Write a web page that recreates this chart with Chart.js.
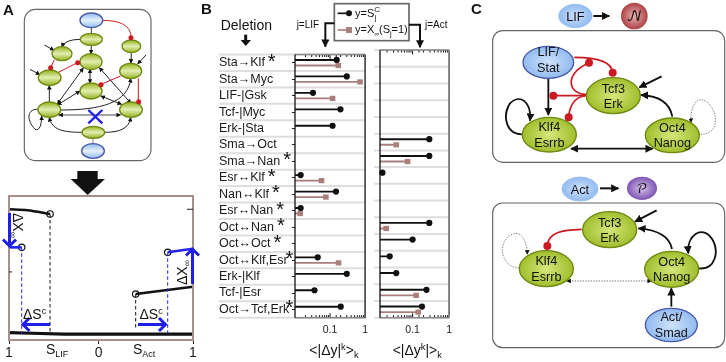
<!DOCTYPE html>
<html><head><meta charset="utf-8">
<style>
html,body{margin:0;padding:0;background:#fff;overflow:hidden;width:726px;height:362px}
canvas{position:absolute}
svg{position:absolute;left:0;top:0;pointer-events:none}
svg text{font-family:'Liberation Sans',Arial,sans-serif;fill:#111}
</style>
<script src="https://cdn.jsdelivr.net/npm/chart.js@4/dist/chart.umd.min.js"></script>
</head><body>
<canvas id="bif" style="left:0;top:190px" width="205" height="172"></canvas>
<canvas id="left" style="left:219px;top:45px" width="155" height="300"></canvas>
<canvas id="right" style="left:374px;top:45px" width="84" height="300"></canvas>
<svg id="ov" width="726" height="362" viewBox="0 0 726 362"></svg>
<script>
const deletions=['Sta→Klf','Sta→Myc','LIF-|Gsk','Tcf-|Myc','Erk-|Sta','Sma→Oct','Sma→Nan','Esr↔Klf','Nan↔Klf','Esr↔Nan','Oct↔Nan','Oct↔Oct','Oct↔Klf,Esr','Erk-|Klf','Tcf-|Esr','Oct→Tcf,Erk'];
const starred=[1,0,0,0,0,0,1,1,1,1,1,1,1,0,0,1];
const lifSc=[0.155,0.30,0.0326,0.198,0.118,null,null,0.0145,0.148,0.0145,null,null,0.0445,0.30,0.036,0.202];
const lifX=[0.172,0.72,0.118,null,null,null,null,0.057,0.076,0.014,null,null,0.175,null,null,null];
const actSc=[null,null,null,null,null,0.287,0.287,0.0149,null,null,0.287,0.10,0.0236,0.0357,0.24,0.181];
const actX=[null,null,null,null,null,0.0357,0.073,null,null,null,0.0189,null,null,null,0.125,0.143];
const upperLeft=[[-1,0.904],[-0.8,0.897],[-0.554,0.870]];
const lowerLeft=[[-1,0.628],[-0.862,0.628]];
const upperRight=[[0.377,0.29],[1,0.343]];
const lowerRight=[[0.725,0.592],[1,0.618]];
const baseline=[[-1,0.01],[-0.75,0.006],[-0.4,0],[1,0]];
const dashBlack=[[[-0.554,0.87],[-0.554,0]],[[0.377,0.29],[0.377,0.04]]];
const dashBlue=[[[-0.862,0.628],[-0.862,0]],[[0.725,0.592],[0.725,0]]];
const openPts=[[-0.554,0.870],[-0.862,0.628],[0.377,0.29],[0.725,0.592]];
const sTicks=[-1,-0.025,1];
const sTickLabels=['1','0','1'];

const F="'Liberation Sans',Arial,sans-serif";
Chart.defaults.font.family=F;
Chart.defaults.color='#222';
const BROWN='#a97f7c';

const lollipopPlugin={id:'lolli',
 beforeDraw(c){const a=c.chartArea,g=c.ctx,n=deletions.length;g.save();g.strokeStyle='#dedede';g.lineWidth=2;
  for(let i=0;i<=n;i++){const y=a.top+(a.bottom-a.top)*i/n;g.beginPath();g.moveTo(0,y);g.lineTo(a.right,y);g.stroke();}g.restore();},
 afterDraw(c){const a=c.chartArea,g=c.ctx,x=c.scales.x;g.save();
  c.data.datasets.forEach((d,i)=>{c.getDatasetMeta(i).data.forEach((el,j)=>{if(d.data[j]==null)return;
    g.fillStyle=d.backgroundColor;
    if(i===0){g.beginPath();g.arc(el.x,el.y,3.1,0,7);g.fill();}else{g.fillRect(el.x-2.8,el.y-2.6,5.6,5.2);}});});
  g.strokeStyle='#111';g.lineWidth=1;
  x.ticks.forEach(t=>{const v=t.value,m=Math.log10(v);const major=Math.abs(m-Math.round(m))<1e-6;const p=x.getPixelForValue(v);
    if(p<a.left+1||p>a.right-1)return;const l=major?4.5:2.5;
    g.beginPath();g.moveTo(p,a.top);g.lineTo(p,a.top+l);g.moveTo(p,a.bottom);g.lineTo(p,a.bottom-l);g.stroke();});
  g.strokeStyle='#8a8a8a';g.lineWidth=1.5;
  g.beginPath();g.moveTo(a.left,a.top);g.lineTo(a.right,a.top);g.moveTo(a.left,a.bottom);g.lineTo(a.right,a.bottom);g.stroke();
  g.strokeStyle='#111';g.lineWidth=1.3;g.beginPath();g.moveTo(a.left,a.top);g.lineTo(a.left,a.bottom);g.stroke();
  g.strokeStyle=c.canvas.id==='left'?'#111':'#777';g.lineWidth=c.canvas.id==='left'?1.3:1.8;
  g.beginPath();g.moveTo(a.right,a.top);g.lineTo(a.right,a.bottom);g.stroke();
  if(c.canvas.id==='left'){const y=c.scales.y;g.font='12.5px '+F;const w={};deletions.forEach((t,i)=>w[i]=g.measureText(t).width);
    g.font='20px '+F;g.fillStyle='#111';g.textBaseline='middle';g.textAlign='left';
    starred.forEach((s,i)=>{if(s)g.fillText('*',Math.min(w[i]+3,66.5),y.getPixelForTick(i)-0.5);});}
  g.restore();}
};
function lolliChart(id,a,b,pad,min,showY){
 return new Chart(document.getElementById(id),{type:'bar',
  data:{labels:deletions,datasets:[
   {label:'y=S_c',data:a,backgroundColor:'#111'},
   {label:'y=X(S=1)',data:b,backgroundColor:BROWN}]},
  options:{indexAxis:'y',responsive:false,animation:false,maintainAspectRatio:false,
   categoryPercentage:0.67,barPercentage:0.34,
   layout:{padding:pad,autoPadding:false},
   plugins:{legend:{display:false},tooltip:{enabled:false}},
   scales:{
    x:{type:'logarithmic',min:min,max:1,grid:{display:false,drawTicks:false},border:{display:false},
       afterFit(s){s.height=27.3;},
       ticks:{autoSkip:false,maxRotation:0,padding:6,color:'#222',font:{size:10.5},
        callback(v){return Math.abs(v-0.1)<1e-9?'0.1':Math.abs(v-1)<1e-9?'1':'';}}},
    y:{type:'category',display:showY,border:{display:false},
       afterFit(s){if(showY)s.width=76;},
       grid:{drawOnChartArea:false,tickLength:3,tickColor:'#222',offset:false},
       ticks:{crossAlign:'far',autoSkip:false,padding:2,color:'#1a1a1a',font:{size:12.5}}}
   }},
  plugins:[lollipopPlugin]});
}
lolliChart('left',lifSc,lifX,{left:0,right:5,top:5,bottom:0},0.01,true);
lolliChart('right',actSc,actX,{left:5,right:6,top:5,bottom:0},0.0128,false);

const frame={id:'fr',afterDraw(c){const a=c.chartArea,g=c.ctx;g.save();g.strokeStyle='#a98f8c';g.lineWidth=2;g.strokeRect(a.left,a.top,a.right-a.left,a.bottom-a.top);
  g.strokeStyle='#222';g.lineWidth=1;const y=c.scales.y;
  g.beginPath();g.moveTo(a.right-6,y.getPixelForValue(0.904));g.lineTo(a.right,y.getPixelForValue(0.904));
  g.moveTo(a.left,y.getPixelForValue(0.45));g.lineTo(a.left+3,y.getPixelForValue(0.45));g.stroke();g.restore();}};
const xy=p=>({x:p[0],y:p[1]});
const ln=(pts,color,w,extra)=>Object.assign({data:pts.map(xy),borderColor:color,borderWidth:w,pointRadius:0,showLine:true,tension:0,fill:false},extra||{});
new Chart(document.getElementById('bif'),{type:'scatter',
 data:{datasets:[
  ln(dashBlack[0],'#111',1,{borderDash:[3.5,2.5]}),ln(dashBlack[1],'#111',1,{borderDash:[3.5,2.5]}),
  ln(dashBlue[0],'#2222dd',1,{borderDash:[3.5,2.5]}),ln(dashBlue[1],'#2222dd',1,{borderDash:[3.5,2.5]}),
  ln(baseline,'#111',3.2),ln(upperLeft,'#111',2.6,{tension:0.3}),ln(upperRight,'#111',2.6),
  ln(lowerLeft,'#2222ee',2.6),ln(lowerRight,'#2222ee',2.6),
  {data:openPts.map(xy),pointRadius:3.2,pointBackgroundColor:'#fff',pointBorderColor:'#111',pointBorderWidth:1.2,showLine:false}
 ]},
 options:{responsive:false,animation:false,layout:{autoPadding:false,padding:{left:9,right:12,top:6,bottom:0}},
  plugins:{legend:{display:false},tooltip:{enabled:false}},
  scales:{
   x:{type:'linear',min:-1,max:1,border:{display:false},afterFit(s){s.height=22;},
      grid:{drawOnChartArea:false,tickLength:4,tickColor:'#222'},
      afterBuildTicks(s){s.ticks=sTicks.map(v=>({value:v}));},
      ticks:{autoSkip:false,maxRotation:0,padding:1,color:'#222',font:{size:14},callback(v){const i=sTicks.indexOf(v);return i<0?'':sTickLabels[i];}}},
   y:{display:false,min:-0.043,max:1}
  }},
 plugins:[frame]});

/* ---- schematic overlay ---- */
const defs=`<defs>
<linearGradient id="gG" x1="0" y1="0" x2="0" y2="1"><stop offset="0" stop-color="#93b31c"/><stop offset=".5" stop-color="#e4edb2"/><stop offset="1" stop-color="#93b31c"/></linearGradient>
<linearGradient id="gB" x1="0" y1="0" x2="0" y2="1"><stop offset="0" stop-color="#8fbcf0"/><stop offset=".5" stop-color="#e6f0fc"/><stop offset="1" stop-color="#8fbcf0"/></linearGradient>
<radialGradient id="gG2" cx=".5" cy=".5" r=".6"><stop offset="0" stop-color="#d6e57a"/><stop offset="1" stop-color="#95b71e"/></radialGradient>
<radialGradient id="gB2" cx=".5" cy=".5" r=".6"><stop offset="0" stop-color="#cfe2fa"/><stop offset="1" stop-color="#85b3ee"/></radialGradient>
<radialGradient id="gN" cx=".5" cy=".5" r=".6"><stop offset="0" stop-color="#e8b0b0"/><stop offset="1" stop-color="#a12c30"/></radialGradient>
<radialGradient id="gP" cx=".5" cy=".5" r=".6"><stop offset="0" stop-color="#d5c2ea"/><stop offset="1" stop-color="#6b3fa9"/></radialGradient>
<marker id="hd" viewBox="0 0 10 10" refX="9" refY="5" markerUnits="userSpaceOnUse" markerWidth="14" markerHeight="14" orient="auto-start-reverse"><path d="M0,0L10,5L0,10z" fill="#111"/></marker>
<marker id="hb" viewBox="0 0 10 10" refX="9" refY="5" markerUnits="userSpaceOnUse" markerWidth="24" markerHeight="24" orient="auto-start-reverse"><path d="M0,0L10,5L0,10z" fill="#111"/></marker>
</defs>`;
function E(cx,cy,rx,ry,fill,stroke,sw){return `<ellipse cx="${cx}" cy="${cy}" rx="${rx}" ry="${ry}" fill="url(#${fill})" stroke="${stroke}" stroke-width="${sw||4}"/>`;}
function P(d,col,w,o){o=o||{};return `<path d="${d}" fill="none" stroke="${col}" stroke-width="${w}" ${o.end?`marker-end="url(#${o.end})"`:''} ${o.start?`marker-start="url(#${o.start})"`:''} ${o.dash?`stroke-dasharray="${o.dash}"`:''}/>`;}
function D(x,y,r){return `<circle cx="${x}" cy="${y}" r="${r}" fill="#cc1a22"/>`;}
function T(x,y,s,size,extra){return `<text x="${x}" y="${y}" font-size="${size}" ${extra||''}>${s}</text>`;}
const GS='#6f8a12',BS='#4a58a8',RED='#cc1a22',DK='#222';
const SCRIPT="font-family:'DejaVu Math TeX Gyre','Liberation Serif',serif";
let A='';
A+=`<rect x="73" y="28" width="380" height="454" rx="34" fill="none" stroke="#666" stroke-width="3.5"/>`;
A+=P('M274,80L274,100','#444',3)+P('M279,415L279,432','#888',3);
A+=P('M274,137L273,162',DK,3,{end:'hd'})+P('M242,118Q195,118 185,141',DK,3,{end:'hd'})+P('M133,135L162,151',DK,3,{end:'hd'})+P('M90,208L120,224',DK,3,{end:'hd'});
A+=P('M394,158L393,190',DK,3,{end:'hd'})+P('M438,165L413,192',DK,3,{end:'hd'})+P('M148,306L148,256',DK,3,{end:'hd'});
A+=P('M308,61C360,62 393,75 393,113',RED,3)+P('M163,180L152,203',RED,3)+P('M175,217L233,188',RED,3)+P('M362,228L303,253',RED,3)+P('M415,235L415,305',RED,3);
A+=P('M270,207L270,250',DK,3,{end:'hd',start:'hd'})+P('M250,204L172,312',DK,3,{end:'hd',start:'hd'})+P('M240,273L172,315',DK,3,{end:'hd',start:'hd'})+P('M298,203L393,310',DK,3,{end:'hd',start:'hd'})+P('M302,288L365,313',DK,3,{end:'hd',start:'hd'});
A+=P('M182,330C300,330 385,310 392,235',DK,3,{end:'hd'})+P('M176,345L362,345','#888',5,{end:'hd',start:'hd'});
A+=P('M246,397C190,397 155,390 148,352',DK,3,{end:'hd'})+P('M314,397C360,397 388,385 392,352',DK,3,{end:'hd'})+P('M115,328C85,325 75,355 105,388C120,395 125,370 125,348',DK,3,{end:'hd'});
[[274,61,34,22,'gB'],[279,453,34,22,'gB']].forEach(e=>A+=E(e[0],e[1],e[2],e[3],e[4],BS));
[[274,118,33,18],[186,161,30,21],[394,139,28,19],[273,185,33,24],[392,213,33,23],[149,233,34,23],[273,273,33,24],[148,329,34,23],[393,329,34,23],[280,397,34,18]].forEach(e=>A+=E(e[0],e[1],e[2],e[3],'gG',GS));
A+=D(393,113,7.5)+D(152,203,7.5)+D(233,188,7.5)+D(303,254,7.5)+D(416,305,7.5);
A+=P('M265,330L307,370M307,330L265,370','#2020ee',7);
A+=`<path d="M232,513H293V537H315L263,585L212,537H232Z" fill="#111"/>`;

let B='';
B+=`<rect x="403" y="11" width="224" height="111" fill="#fff" stroke="#666" stroke-width="5"/>`;
B+=P('M413,40L450,40','#111',5)+`<circle cx="447" cy="40" r="9" fill="#111"/>`;
B+=P('M413,90L450,90',BROWN,5)+`<rect x="438" y="81" width="18" height="18" fill="${BROWN}"/>`;
B+=`<text x="465" y="50" font-size="33">y=S<tspan dy="-13" font-size="24">C</tspan><tspan dx="-16" dy="22" font-size="22">j</tspan></text>`;
B+=`<text x="465" y="100" font-size="33">y=X<tspan dy="9" font-size="20">∞</tspan><tspan dy="-9">(S</tspan><tspan dy="9" font-size="22">j</tspan><tspan dy="-9">=1)</tspan></text>`;
B+=T(290,83,'j=LIF',30)+T(675,83,'j=Act',30);
B+=P('M403,70H376V140','#111',6,{end:'hb'})+P('M627,74H660V142','#111',6,{end:'hb'});
B+=T(62,90,'Deletion',42);
B+=P('M137,104V126','#111',9)+`<path d="M122,120H153L137,138Z" fill="#111"/>`;
let BB='';
BB+=`<text x="328" y="525" font-size="42">&lt;|Δy|<tspan dy="-16" font-size="28">k</tspan><tspan dy="16">&gt;</tspan><tspan dy="10" font-size="28">k</tspan></text>`;
BB+=`<text x="578" y="525" font-size="42">&lt;|Δy<tspan dy="-16" font-size="28">k</tspan><tspan dy="16">|&gt;</tspan><tspan dy="10" font-size="28">k</tspan></text>`;

function CT(x,y,a,b,size){size=size||38;return `<text text-anchor="middle" font-size="${size}" x="${x}" y="${y}">${a}</text>`+(b?`<text text-anchor="middle" font-size="${size}" x="${x}" y="${y+47}">${b}</text>`:'');}
let C1='';
C1+=E(316,48,50,35,'gB2','#9cc0ee',3)+CT(316,62,'LIF');
C1+=P('M370,48L418,48','#111',6,{end:'hb'});
C1+=`<circle cx="493" cy="48" r="40" fill="url(#gN)"/>`+`<text x="493" y="63" text-anchor="middle" font-size="42" style="${SCRIPT}">𝒩</text>`;
C1+=`<rect x="68" y="92" width="696" height="395" rx="30" fill="none" stroke="#666" stroke-width="3.5"/>`;
C1+=P('M235,225L235,345','#111',5.5,{end:'hb'});
C1+=P('M313,172C370,172 425,180 428,218',RED,5)+P('M348,283C300,285 275,225 357,188',RED,5)+P('M348,287L250,287',RED,5)+P('M345,288C320,290 300,310 296,350',RED,5);
C1+=P('M575,229L508,262','#111',5.5,{end:'hb'})+P('M607,350C600,310 570,288 513,285','#111',5.5,{end:'hb'});
C1+=P('M692,403C745,405 750,340 710,305C680,285 660,320 663,368','#666',2.5,{dash:'4 4',end:'hd'});
C1+=P('M158,403C110,405 95,350 120,310C150,280 185,305 180,362','#111',5.5,{end:'hb'});
C1+=P('M303,446L548,446','#111',5.5,{end:'hb',start:'hb'});
C1+=E(235,187,76,48,'gB2',BS)+CT(235,168,'LIF/','Stat');
C1+=E(430,287,81,54,'gG2',GS)+CT(430,278,'Tcf3','Erk');
C1+=E(238,404,81,52,'gG2',GS)+CT(238,393,'Klf4','Esrrb');
C1+=E(607,406,81,52,'gG2',GS)+CT(607,395,'Oct4','Nanog');
C1+=D(428,218,12)+D(357,188,12)+D(250,287,12)+D(296,352,12);

let C2='';
C2+=E(330,42,54,36,'gB2','#9cc0ee',3)+CT(330,56,'Act');
C2+=P('M390,40L445,40','#111',6,{end:'hb'});
C2+=`<ellipse cx="516" cy="40" rx="45" ry="35" fill="url(#gP)"/>`+`<text x="516" y="55" text-anchor="middle" font-size="40" style="${SCRIPT}">𝒫</text>`;
C2+=`<rect x="68" y="84" width="696" height="434" rx="30" fill="none" stroke="#666" stroke-width="3.5"/>`;
C2+=P('M335,163C280,165 235,170 232,212',RED,5.5);
C2+=P('M148,278C100,280 80,215 115,185C145,160 170,185 172,238','#666',2.5,{dash:'4 4',end:'hd'});
C2+=P('M560,106L495,140','#111',5.5,{end:'hb'})+P('M606,222C600,190 570,165 505,160','#111',5.5,{end:'hb'});
C2+=P('M687,280C735,285 750,230 725,190C695,150 650,180 655,235','#111',5.5,{end:'hb'});
C2+=P('M290,318L545,318','#555',2.5,{dash:'4 4',end:'hd',start:'hd'});
C2+=P('M604,395L604,340','#111',5.5,{end:'hb'});
C2+=E(419,164,81,54,'gG2',GS)+CT(419,155,'Tcf3','Erk');
C2+=E(229,281,81,54,'gG2',GS)+CT(229,270,'Klf4','Esrrb');
C2+=E(605,283,81,54,'gG2',GS)+CT(605,272,'Oct4','Nanog');
C2+=E(604,450,78,50,'gB2',BS)+CT(604,439,'Act/','Smad');
C2+=D(232,213,12);

const BLUE='#1f1fe8';
function blueArrow(x1,y1,x2,y2){
 const dx=x2-x1,dy=y2-y1,L=Math.hypot(dx,dy),ux=dx/L,uy=dy/L,h=6.5;
 return `<path d="M${x1},${y1}L${x2},${y2}M${x2-ux*h+uy*h},${y2-uy*h-ux*h}L${x2},${y2}L${x2-ux*h-uy*h},${y2-uy*h+ux*h}" fill="none" stroke="${BLUE}" stroke-width="3"/>`;
}
let A2='';
A2+=blueArrow(9.5,213,9.5,246)+blueArrow(192.5,284,192.5,249)+blueArrow(50,324.5,23,324.5)+blueArrow(138,324.5,165.5,324.5);
A2+=`<text transform="translate(13,213) rotate(90)" font-size="14">ΔX<tspan dy="3" font-size="9">∞</tspan></text>`;
A2+=`<text transform="translate(187,285) rotate(-90)" font-size="14">ΔX<tspan dy="3" font-size="9">∞</tspan></text>`;
A2+=`<text x="23" y="319" font-size="14">ΔS<tspan dy="-5" font-size="9">c</tspan></text>`;
A2+=`<text x="139.5" y="319" font-size="14">ΔS<tspan dy="-5" font-size="9">c</tspan></text>`;
A2+=`<text x="46" y="354" font-size="14">S<tspan dy="3" font-size="9">LIF</tspan></text>`;
A2+=`<text x="133" y="354" font-size="14">S<tspan dy="3" font-size="9">Act</tspan></text>`;

const letters=T(3,15,'A',15,'font-weight="bold"')+T(201,14,'B',15,'font-weight="bold"')+T(471,14,'C',15,'font-weight="bold"');
const k=0.33333;
document.getElementById('ov').innerHTML=defs
 +`<g transform="scale(${k})">${A}</g>`+A2
 +`<g transform="translate(200,0) scale(${k})">${B}</g>`
 +`<g transform="translate(200,180) scale(${k})">${BB}</g>`
 +`<g transform="translate(470,0) scale(${k})">${C1}</g>`
 +`<g transform="translate(470,175) scale(${k})">${C2}</g>`
 +letters;
</script>
</body></html>
